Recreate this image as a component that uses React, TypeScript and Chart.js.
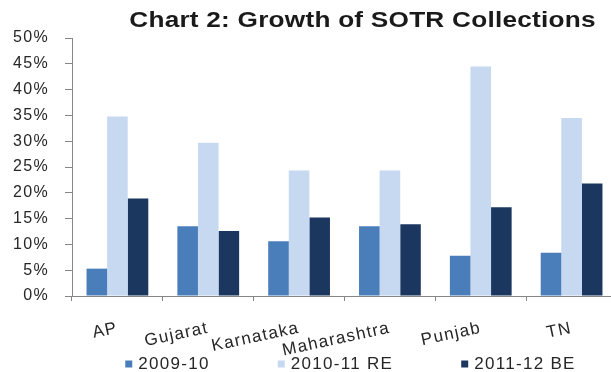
import { useEffect, useRef } from "react";
import { Chart, registerables } from "chart.js";

Chart.register(...registerables);

// Growth of State Own Tax Revenue (SOTR) collections, per cent
const STATES = ["AP", "Gujarat", "Karnataka", "Maharashtra", "Punjab", "TN"];
const SERIES_LABELS = ["2009-10", "2010-11 RE", "2011-12 BE"];
const GROWTH_2009_10 = [5.3, 13.5, 10.6, 13.5, 7.8, 8.4];
const GROWTH_2010_11_RE = [34.8, 29.7, 24.3, 24.3, 44.5, 34.5];
const GROWTH_2011_12_BE = [18.9, 12.6, 15.2, 13.9, 17.2, 21.8];
const Y_MAX = 50;
const Y_STEP = 5;

const TITLE = "Chart 2: Growth of SOTR Collections";
const COLORS = ["#4A7EBB", "#C6D9F1", "#1B375F"];
const FONT = "'Liberation Sans', Arial, sans-serif";
const AXIS_COLOR = "#868686";
const TEXT_COLOR = "#262626";
const TEXT_SPACING = "1.3px";

// Title above the plot and a widely spaced legend row under the axis labels.
const captionPlugin = {
  id: "caption",
  beforeLayout(chart: any) {
    chart.ctx.letterSpacing = TEXT_SPACING;
  },
  beforeDraw(chart: any) {
    chart.ctx.letterSpacing = TEXT_SPACING;
  },
  afterDraw(chart: any) {
    const { ctx, chartArea } = chart;
    const mid = (chartArea.left + chartArea.right) / 2;

    // wide bold title
    ctx.save();
    ctx.font = `bold 22px ${FONT}`;
    ctx.letterSpacing = "0.2px";
    ctx.fillStyle = "#1a1a1a";
    ctx.textAlign = "center";
    ctx.textBaseline = "middle";
    ctx.translate(mid + 18, 20.5);
    ctx.scale(1.19, 1);
    ctx.fillText(TITLE, 0, 0);
    ctx.restore();

    ctx.save();
    ctx.font = `17px ${FONT}`;
    ctx.letterSpacing = TEXT_SPACING;
    ctx.textAlign = "left";
    ctx.textBaseline = "middle";
    const box = 7;
    const boxGap = 6;
    const gap = 68;
    const items = chart.data.datasets.map((ds: any) => ({
      label: ds.label as string,
      color: ds.backgroundColor as string,
      width: box + boxGap + ctx.measureText(ds.label).width,
    }));
    const total =
      items.reduce((s: number, it: any) => s + it.width, 0) + gap * (items.length - 1);
    let x = mid + 6 - total / 2;
    const y = chart.height - 8;
    for (const it of items) {
      ctx.fillStyle = it.color;
      ctx.fillRect(x, y - box / 2, box, box);
      ctx.fillStyle = TEXT_COLOR;
      ctx.fillText(it.label, x + box + boxGap, y);
      x += it.width + gap;
    }
    ctx.restore();
  },
};

export default function App() {
  const canvasRef = useRef<HTMLCanvasElement | null>(null);

  useEffect(() => {
    const canvas = canvasRef.current;
    if (!canvas) return;
    const series = [GROWTH_2009_10, GROWTH_2010_11_RE, GROWTH_2011_12_BE];
    const chart = new Chart(canvas, {
      type: "bar",
      data: {
        labels: STATES,
        datasets: series.map((data, i) => ({
          label: SERIES_LABELS[i],
          data,
          backgroundColor: COLORS[i],
          borderWidth: 0,
          categoryPercentage: 0.68,
          barPercentage: 1,
        })),
      },
      options: {
        animation: false,
        responsive: true,
        maintainAspectRatio: false,
        layout: { padding: { top: 38, right: 3, left: 0, bottom: 0 } },
        plugins: {
          legend: { display: false },
          title: { display: false },
          tooltip: { enabled: false },
        },
        scales: {
          x: {
            grid: {
              drawOnChartArea: false,
              drawTicks: true,
              tickLength: 5,
              color: AXIS_COLOR,
            },
            border: { display: true, color: AXIS_COLOR, width: 1 },
            ticks: {
              autoSkip: false,
              minRotation: 12,
              maxRotation: 12,
              padding: 17,
              color: TEXT_COLOR,
              font: { family: FONT, size: 17 },
            },
            afterFit: (scale: any) => {
              scale.height = 76;
            },
          },
          y: {
            min: 0,
            max: Y_MAX,
            grid: {
              drawOnChartArea: false,
              drawTicks: true,
              tickLength: 7,
              color: AXIS_COLOR,
            },
            border: { display: true, color: AXIS_COLOR, width: 1 },
            ticks: {
              stepSize: Y_STEP,
              padding: 16,
              color: TEXT_COLOR,
              font: { family: FONT, size: 16 },
              callback: (v: any) => `${v}%`,
            },
            afterFit: (scale: any) => {
              scale.width = 72;
            },
          },
        },
      },
      plugins: [captionPlugin],
    });
    return () => chart.destroy();
  }, []);

  return (
    <div
      style={{
        position: "fixed",
        left: 0,
        top: 0,
        width: 620,
        height: 372,
        background: "#fff",
      }}
    >
      <canvas ref={canvasRef} />
    </div>
  );
}
